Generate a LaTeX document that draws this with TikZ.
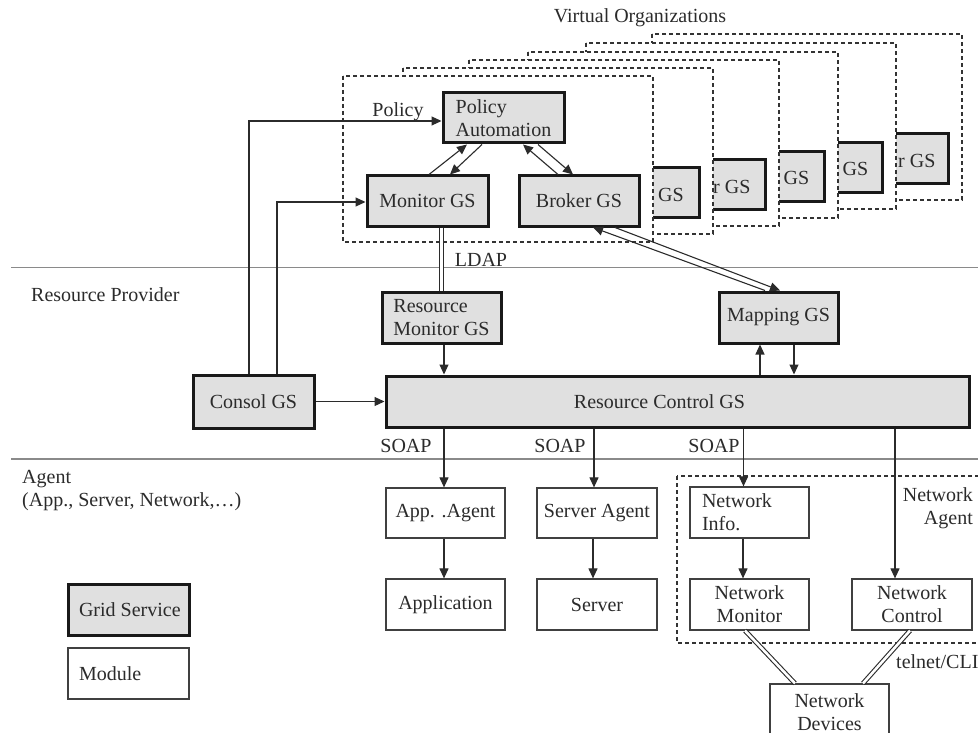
\documentclass[tikz,border=0pt]{standalone}
\usepackage{fontspec}
\setmainfont{Liberation Serif}
\usetikzlibrary{arrows.meta,calc}
\definecolor{gsfill}{HTML}{E0E0E0}
\definecolor{ink}{HTML}{2B2B2B}
\definecolor{sepc}{HTML}{8A8A8A}
\begin{document}
\begin{tikzpicture}[x=1pt,y=-1pt,
  font=\fontsize{20pt}{23pt}\selectfont, text=ink,
  gs/.style={draw=black!90, line width=3pt, fill=gsfill, inner sep=0pt, align=center},
  module/.style={draw=black!75, line width=1.2pt, fill=white, inner sep=0pt, align=center},
  arr/.style={draw=ink, line width=1.1pt, -{Triangle[length=10pt,width=9pt]}},
  dbl/.style={draw=ink, line width=1.1pt, double=white, double distance=2.6pt},
  vobox/.style={draw=black!80, dash pattern=on 4pt off 3pt, line width=1.3pt, fill=white},
  sepline/.style={draw=sepc, line width=1.4pt},
  lbl/.style={inner sep=0pt},
]
\useasboundingbox (0,0) rectangle (978,733);
\clip (0,0) rectangle (978,733);

% layer separators
\draw[sepline] (11,267.5) -- (978,267.5);
\draw[sepline] (11,459) -- (978,459);

% stacked virtual organizations (back to front)
\foreach \dx/\dy in {309/-42, 243/-33, 185/-24, 126/-16, 60/-8}{
  \draw[vobox] (343+\dx,76+\dy) rectangle +(310,166);
  \draw[draw=black!90, line width=3pt, fill=gsfill] (519+\dx,176+\dy) rectangle +(120,50);
}
\draw[vobox] (343,76) rectangle (653,242);

% visible parts of the hidden broker labels
\node[lbl] (g2) at (671,195) {GS};
\node[lbl, anchor=west] (g3) at (713,187) {r GS};
\node[lbl] (g4) at (796.5,178) {GS};
\node[lbl] (g5) at (855.5,169) {GS};
\node[lbl, anchor=west] (g6) at (898,161) {r GS};

\node[lbl] (vo) at (640,18) {Virtual Organizations};

% front VO contents
\node[gs, align=left, minimum width=121pt, minimum height=50pt] (pa) at (503.5,118) {Policy\\Automation};
\node[gs, minimum width=121pt, minimum height=50pt] (mon) at (427.5,201) {Monitor GS};
\node[gs, minimum width=120pt, minimum height=50pt] (broker) at (579,201) {Broker GS};
\node[lbl] (pol) at (398,112) {Policy};

% resource provider
\node[lbl, anchor=west] (rp) at (31,295) {Resource Provider};
\node[gs, align=left, minimum width=119pt, minimum height=51pt] (rmgs) at (441.5,317.5) {Resource\\Monitor GS};
\node[gs, minimum width=119pt, minimum height=51pt] (map) at (778.5,317.5) {Mapping GS};
\node[gs, minimum width=121pt, minimum height=53pt] (consol) at (253.5,401.5) {Consol GS};
\node[gs, minimum width=583pt, minimum height=51pt] (rcgs) at (677.5,401.5) {Resource Control GS\hspace*{36pt}};
\node[lbl] (ldap) at (481,260) {LDAP};

% agents
\node[lbl, anchor=west, align=left] (ag) at (22,491) {Agent\\(App., Server, Network,…)};
\node[lbl] (soap1) at (406,446) {SOAP};
\node[lbl] (soap2) at (560,446) {SOAP};
\node[lbl] (soap3) at (714,446) {SOAP};

\draw[vobox, fill=none] (677,476) rectangle (990,643);
\node[lbl, anchor=east, align=right] (nag) at (973,508) {Network\\Agent};
\node[lbl, anchor=west] (tel) at (896,662) {telnet/CLI};

\node[module, minimum width=119pt, minimum height=50pt] (app) at (445.5,513) {App. .Agent};
\node[module, minimum width=119pt, minimum height=51pt] (appl) at (445.5,604.5) {Application};
\node[module, minimum width=120pt, minimum height=50pt] (srva) at (597,513) {Server Agent};
\node[module, minimum width=120pt, minimum height=51pt] (srv) at (597,604.5) {Server};
\node[module, align=left, text width=95pt, inner xsep=12pt, minimum height=51pt] (ninfo) at (749.5,512.5) {Network\\Info.};
\node[module, minimum width=119pt, minimum height=51pt] (nmon) at (749.5,604.5) {Network\\Monitor};
\node[module, minimum width=120pt, minimum height=51pt] (nctl) at (912,604.5) {Network\\Control};
\node[module, minimum width=119pt, minimum height=56pt] (ndev) at (829.5,712) {Network\\Devices};

% legend
\node[gs, inner xsep=11pt, minimum height=51pt] (leggs) at (128.5,609.5) {\makebox[99pt][l]{Grid Service}};
\node[module, inner xsep=11pt, minimum height=51pt] (legmod) at (128.5,673.5) {\makebox[99pt][l]{Module}};

% connectors
\draw[arr] ([xshift=-4.5pt]consol.north) |- ([yshift=-3pt]pa.west);
\draw[arr] ([xshift=23.5pt]consol.north) |- ([yshift=-1pt]mon.west);
\draw[arr] (consol.east) -- (rcgs.west);

\draw[arr] ([xshift=1.5pt]mon.north) -- ([xshift=-36.5pt]pa.south);
\draw[arr] ([xshift=-21.5pt]pa.south) -- ([xshift=22.5pt]mon.north);
\draw[arr] ([xshift=-21pt]broker.north) -- ([xshift=19.5pt]pa.south);
\draw[arr] ([xshift=34.5pt]pa.south) -- ([xshift=-6pt]broker.north);

\draw[arr] ([xshift=-13.5pt]map.north) -- ([xshift=14pt]broker.south);
\draw[arr] ([xshift=36pt]broker.south) -- ([xshift=1.5pt]map.north);

\draw[dbl] (mon.south -| rmgs.north) -- (rmgs.north);
\coordinate (c1) at ([xshift=2.5pt]rmgs.south);
\draw[arr] (c1) -- (c1 |- rcgs.north);

\coordinate (mu) at ([xshift=-18.5pt]map.south);
\draw[arr] (mu |- rcgs.north) -- (mu);
\coordinate (md) at ([xshift=15.5pt]map.south);
\draw[arr] (md) -- (md |- rcgs.north);

\coordinate (a1) at ([xshift=-1.5pt]app.north);
\draw[arr] (a1 |- rcgs.south) -- (a1);
\coordinate (a2) at ([xshift=-3pt]srva.north);
\draw[arr] (a2 |- rcgs.south) -- (a2);
\coordinate (a3) at ([xshift=-6pt]ninfo.north);
\draw[arr] (a3 |- rcgs.south) -- (a3);
\coordinate (a4) at ([xshift=-17pt]nctl.north);
\draw[arr] (a4 |- rcgs.south) -- (a4);

\draw[arr] ([xshift=-1.5pt]app.south) -- ([xshift=-1.5pt]appl.north);
\draw[arr] ([xshift=-4pt]srva.south) -- ([xshift=-4pt]srv.north);
\draw[arr] ([xshift=-6.5pt]ninfo.south) -- ([xshift=-6.5pt]nmon.north);

\draw[dbl] ([xshift=-4.5pt]nmon.south) -- ([xshift=-34.5pt]ndev.north);
\draw[dbl] ([xshift=-2pt]nctl.south) -- ([xshift=33.5pt]ndev.north);
\end{tikzpicture}
\end{document}
